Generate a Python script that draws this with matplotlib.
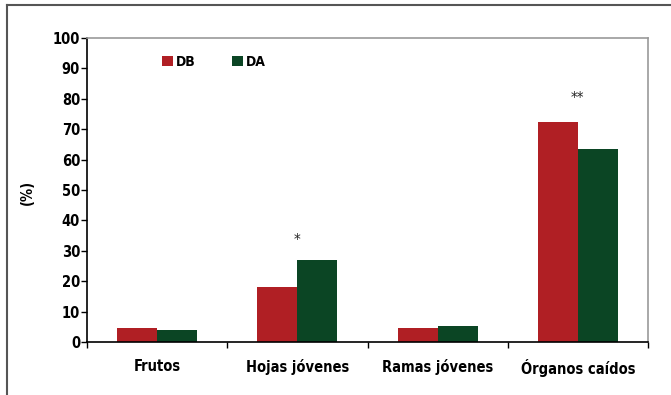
import matplotlib
matplotlib.use("Agg")
import matplotlib.pyplot as plt
import numpy as np
from matplotlib.lines import Line2D

categories = ["Frutos", "Hojas jóvenes", "Ramas jóvenes", "Órganos caídos"]
db_values = [4.6, 18.1, 4.6, 72.4]
da_values = [4.0, 27.0, 5.4, 63.5]
series_names = ["DB", "DA"]
annotations = ["", "*", "", "**"]
annotation_y = [None, 33.5, None, 80.0]
yticks = list(range(0, 101, 10))

red = "#B01F24"
green = "#0B4524"

plt.rcParams['font.family'] = ['DejaVu Sans']
plt.rcParams['font.stretch'] = 'condensed'

fig = plt.figure(figsize=(6.71, 3.95), dpi=100)
W, H = 671, 395
ax = fig.add_axes([87 / W, 1 - 342 / H, (648 - 87) / W, (342 - 38) / H])

x = np.arange(len(categories))
bw = 0.285
ax.bar(x - bw / 2, db_values, width=bw, color=red, label=series_names[0])
ax.bar(x + bw / 2, da_values, width=bw, color=green, label=series_names[1])

for xi, t, yv in zip(x, annotations, annotation_y):
    if t:
        ax.text(xi, yv, t, ha='center', va='center', fontsize=11, color='#222222')

fs = 10.5
ax.set_xlim(-0.5, len(categories) - 0.5)
ax.set_ylim(0, 100)
ax.set_yticks(yticks)
ax.set_yticklabels([str(v) for v in yticks], fontsize=fs, fontweight='bold')
ax.set_xticks(np.arange(len(categories) + 1) - 0.5)
ax.set_xticklabels([])
ax.set_xticks(x, minor=True)
ax.set_xticklabels(categories, minor=True, fontsize=fs, fontweight='bold')
ax.tick_params(axis='x', which='minor', length=0, pad=12)
ax.tick_params(axis='x', which='major', length=4, direction='out', width=1)
ax.tick_params(axis='y', length=4, direction='out', width=1, pad=1)

for s in ['top', 'right']:
    ax.spines[s].set_color('#999999')
    ax.spines[s].set_linewidth(1.2)
for s in ['left', 'bottom']:
    ax.spines[s].set_color('black')
    ax.spines[s].set_linewidth(1.2)

ax.set_ylabel("(%)", fontsize=fs, fontweight='bold', labelpad=0)
ax.yaxis.set_label_coords((35 - 87) / (648 - 87), (342 - 192) / (342 - 38))

leg = ax.legend(loc='upper left', bbox_to_anchor=((162 - 87) / (648 - 87), 1 - (55 - 38) / (342 - 38)),
                ncol=2, frameon=False, handlelength=0.8, handleheight=0.8,
                handletextpad=0.2, columnspacing=2.6, borderaxespad=0, borderpad=0,
                prop={'weight': 'bold', 'size': fs - 0.5, 'stretch': 'condensed'})

# outer frame (left and top visible)
fig.add_artist(Line2D([7 / W, 7 / W], [0, 1 - 5 / H], transform=fig.transFigure, color='#555555', lw=1.5))
fig.add_artist(Line2D([7 / W, 1], [1 - 5 / H, 1 - 5 / H], transform=fig.transFigure, color='#555555', lw=1.5))

fig.savefig("out.png", dpi=100)
